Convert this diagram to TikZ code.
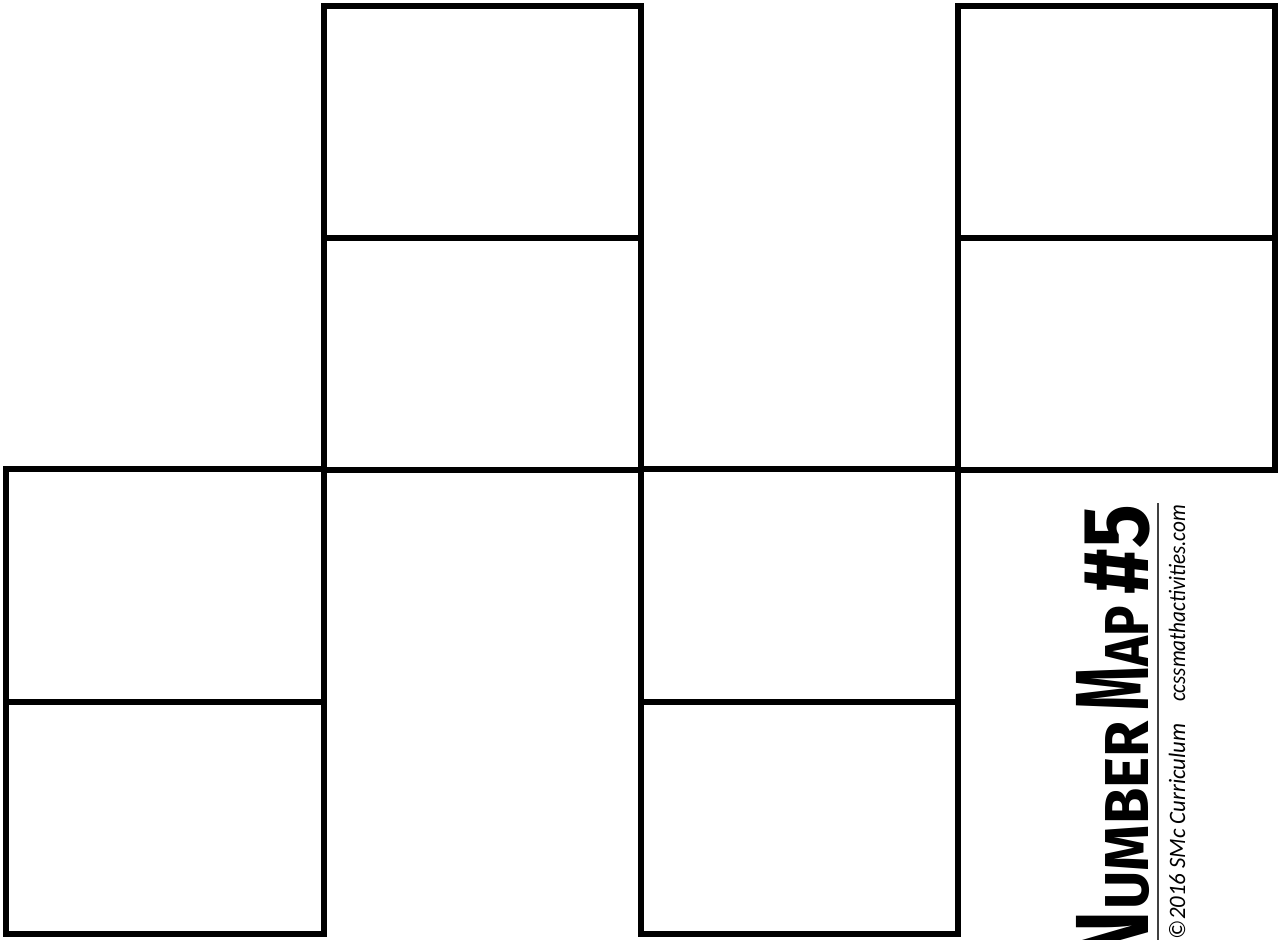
\documentclass[tikz,border=0pt]{standalone}
\usepackage{fontspec}
\usepackage{graphicx}
\newfontfamily\notefont{Carlito}
\newfontfamily\titlefont{Fira Sans}
\tikzset{
  cell/.style={draw=black, line width=6pt, rectangle, minimum width=317pt, minimum height=232pt, inner sep=0pt, outer sep=0pt},
  title/.style={rotate=90, inner sep=0pt, outer sep=0pt, font=\titlefont\bfseries},
  note/.style={rotate=90, inner sep=0pt, outer sep=0pt, font=\notefont\itshape\fontsize{23.5}{26}\selectfont}
}
\begin{document}
\begin{tikzpicture}[x=1pt,y=-1pt]
\useasboundingbox[fill=white] (0,0) rectangle (1278,940);
% column 2
\node[cell] (c2r1) at (482.5,122) {};
\node[cell] (c2r2) at (482.5,353.5) {};
% column 4
\node[cell] (c4r1) at (1116.5,122) {};
\node[cell] (c4r2) at (1116.5,353.5) {};
% column 1
\node[cell, minimum width=318pt, minimum height=233pt] (c1r3) at (165,585.5) {};
\node[cell, minimum width=318pt, minimum height=232pt] (c1r4) at (165,818) {};
% column 3
\node[cell, minimum height=233pt] (c3r3) at (799.5,585.5) {};
\node[cell, minimum height=232pt] (c3r4) at (799.5,818) {};
% title
\node[title, anchor=base east] (t) at (1148,505) {%
\scalebox{0.76}[1]{\fontsize{104}{110}\selectfont N}\hspace{2pt}%
\scalebox{0.95}[1]{\fontsize{62}{70}\selectfont UMBER}\hspace{11pt}%
\scalebox{0.53}[1]{\fontsize{104}{110}\selectfont M}%
\scalebox{0.82}[1]{\fontsize{62}{70}\selectfont AP}\hspace{12pt}%
\scalebox{0.87}[1]{\fontsize{94}{110}\selectfont\#5}};
\coordinate (lt) at (1158,503);
\coordinate (lb) at (1158,940);
\draw[line width=1.3pt, black!75] (lt) -- (lb);
\node[note, xscale=0.9, anchor=base east] (web) at (1185,505) {ccssmathactivities.com};
\node[note, xscale=0.97, anchor=base west] (copy) at (1185,939) {©2016 SMc Curriculum};
\end{tikzpicture}
\end{document}
